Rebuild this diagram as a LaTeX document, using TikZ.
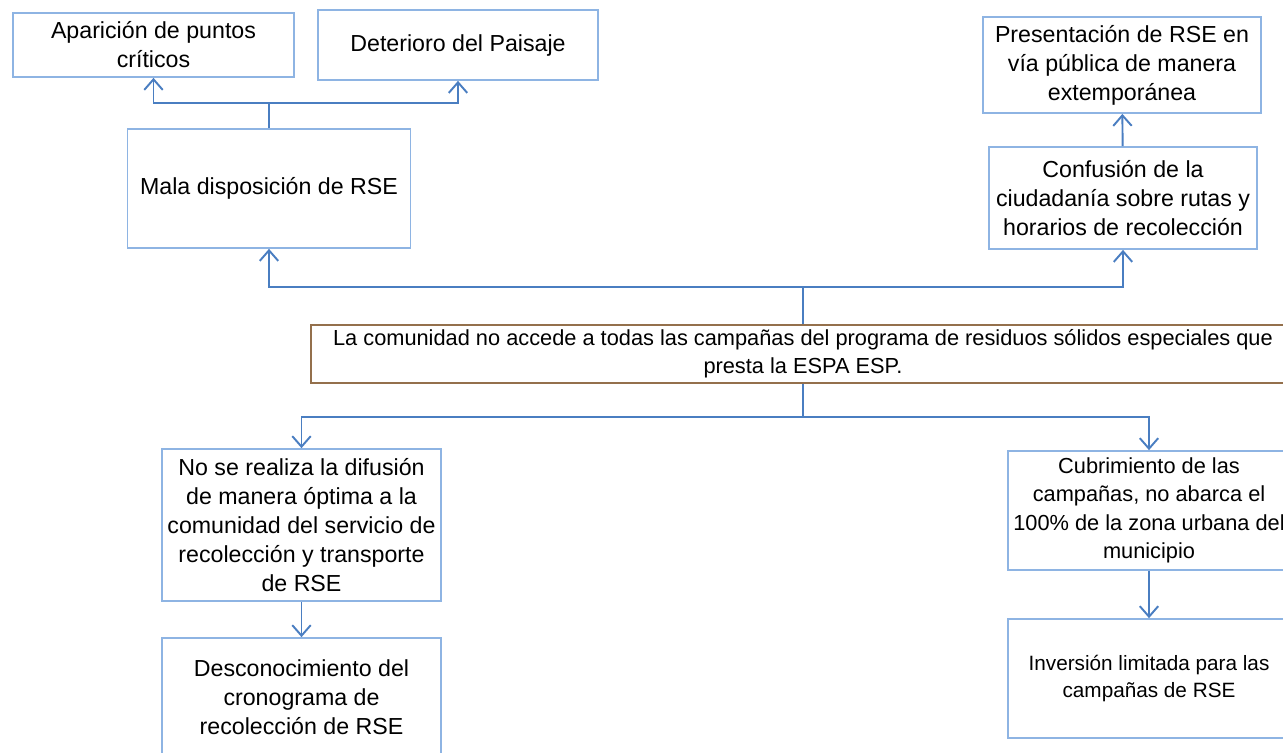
\documentclass[tikz,border=0pt]{standalone}
\usepackage{fontspec}
\setmainfont{Liberation Sans}
\usetikzlibrary{arrows.meta}
\definecolor{boxblue}{RGB}{142,180,227}
\definecolor{linkblue}{RGB}{74,126,193}
\definecolor{rootbrown}{RGB}{148,112,76}
\tikzset{
  box/.style 2 args={draw=boxblue, line width=1pt, align=center, inner sep=0pt,
    minimum width=#1, minimum height=#2, font=\fontsize{13.2}{16.5}\selectfont},
  smalltext/.style={font=\fontsize{12.4}{16.2}\selectfont},
  link/.style={draw=linkblue, line width=1.1pt, -{Straight Barb[length=6pt,width=10.5pt]}}
}
\begin{document}
\begin{tikzpicture}[x=0.02cm, y=-0.02cm]
      \useasboundingbox (0,0) rectangle (1283,752);
      \draw
        (153.5,45) node[box={5.62cm}{1.28cm}] (apar){Aparición de puntos\\críticos}
        (458,45) node[box={5.60cm}{1.40cm}] (deter){Deterioro del Paisaje}
        (269,188.5) node[box={5.66cm}{2.38cm}] (mala){Mala disposición de RSE}
        (1122,65) node[box={5.56cm}{1.92cm}] (prese){Presentación de RSE en\\vía pública de manera\\extemporánea}
        (1123,198) node[box={5.36cm}{2.04cm}] (confu){Confusión de la\\ciudadanía sobre rutas y\\horarios de recolección}
        (803,354) node[box={19.68cm}{1.16cm}, draw=rootbrown, font=\fontsize{12.4}{15.9}\selectfont] (comun){La comunidad no accede a todas las campañas del programa de residuos sólidos especiales que\\presta la ESPA ESP.}
        (301.5,525) node[box={5.58cm}{3.04cm}] (nose){No se realiza la difusión\\de manera óptima a la\\comunidad del servicio de\\recolección y transporte\\de RSE}
        (301.5,697) node[box={5.58cm}{2.36cm}] (desco){Desconocimiento del\\cronograma de\\recolección de RSE}
        (1149,510.5) node[box={5.64cm}{2.38cm}, smalltext] (cubri){Cubrimiento de las\\campañas, no abarca el\\100\% de la zona urbana del\\municipio}
        (1149,678.5) node[box={5.64cm}{2.38cm}, font=\fontsize{11.8}{15.9}\selectfont] (inver){Inversión limitada para las\\campañas de RSE};
      \coordinate (j1) at (269,103);
      \coordinate (j2) at (803,287);
      \coordinate (j3) at (803,417);
      \begin{scope}[link]
        \draw[-] (mala) to (j1);
        \draw (j1) -| (apar);
        \draw (j1) -| (deter);
        \draw[-] (comun) to (j2);
        \draw (j2) -| (mala);
        \draw (j2) -| (confu);
        \draw (confu) to (prese);
        \draw[-] (comun) to (j3);
        \draw (j3) -| (nose);
        \draw (j3) -| (cubri);
        \draw (nose) to (desco);
        \draw (cubri) to (inver);
      \end{scope}
    \end{tikzpicture}
\end{document}
